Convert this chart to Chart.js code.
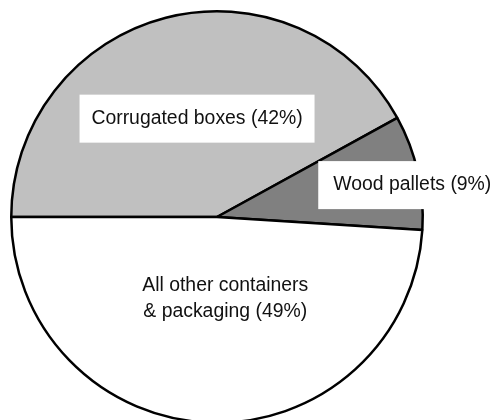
<!DOCTYPE html>
<html>
<head>
<meta charset="utf-8">
<script src="https://cdn.jsdelivr.net/npm/chart.js@4"></script>
<style>
  html, body { margin: 0; padding: 0; background: #fff; overflow: hidden; }
  #wrap { width: 491px; height: 420px; overflow: hidden; }
</style>
</head>
<body>
<div id="wrap"><canvas id="pieChart" width="491" height="434"></canvas></div>
<script>
const categories = ['Corrugated boxes', 'Wood pallets', 'All other containers & packaging'];
const shares = [42, 9, 49];
const sliceColors = ['#c0c0c0', '#808080', '#ffffff'];

// label text lines, box or not, offset from pie centre as fraction of radius
const labelLines = [
  ['Corrugated boxes (42%)'],
  ['Wood pallets (9%)'],
  ['All other containers', '& packaging (49%)']
];
const labelSpots = [
  { dx: -0.097, dy: -0.478, box: true, align: 'center', w: 235 },
  { dx: 0.565, dy: -0.155, box: true, align: 'left', w: 190 },
  { dx: 0.04, dy: 0.396, box: false, align: 'center' }
];

const sliceLabels = {
  id: 'sliceLabels',
  afterDatasetsDraw(chart) {
    const c = chart.ctx;
    const arc = chart.getDatasetMeta(0).data[0];
    const r = arc.outerRadius;
    c.save();
    c.font = '19.4px "Liberation Sans", Arial, sans-serif';
    c.textBaseline = 'middle';
    labelLines.forEach((lines, i) => {
      const s = labelSpots[i];
      const x = arc.x + s.dx * r;
      const y = arc.y + s.dy * r;
      const lh = 26;
      if (s.box) {
        c.fillStyle = '#fff';
        const bx = s.align === 'center' ? x - s.w / 2 : x - 15;
        c.fillRect(bx, y - 24, s.w, 48);
      }
      c.fillStyle = '#111';
      c.textAlign = s.align;
      lines.forEach((t, j) => {
        c.fillText(t, x, y + (j - (lines.length - 1) / 2) * lh);
      });
    });
    c.restore();
  }
};

new Chart(document.getElementById('pieChart'), {
  type: 'pie',
  data: {
    labels: categories,
    datasets: [{
      data: shares,
      backgroundColor: sliceColors,
      borderColor: '#000',
      borderWidth: 2.5
    }]
  },
  options: {
    responsive: false,
    animation: false,
    rotation: -90,
    events: [],
    layout: { padding: { left: 10, top: 10, right: 67, bottom: 10 } },
    plugins: {
      legend: { display: false },
      tooltip: { enabled: false }
    }
  },
  plugins: [sliceLabels]
});
</script>
</body>
</html>
